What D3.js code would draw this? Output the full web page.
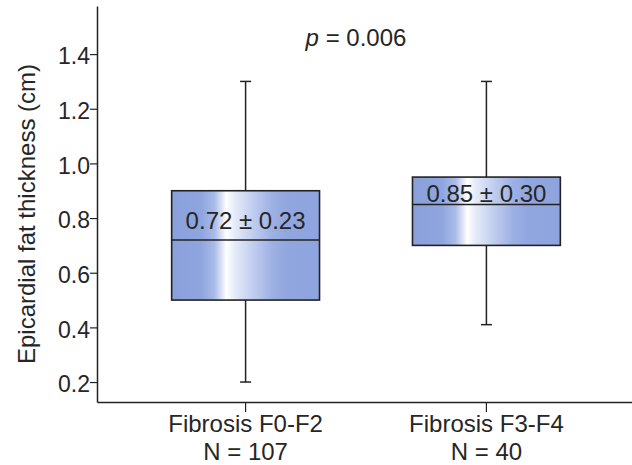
<!DOCTYPE html>
<html>
<head>
<meta charset="utf-8">
<script src="https://cdn.jsdelivr.net/npm/d3@7"></script>
<style>
  body { margin: 0; background: #fff; }
  svg text { font-family: "Liberation Sans", Arial, sans-serif; fill: #262626; }
</style>
</head>
<body>
<div id="chart"></div>
<script>
// data
const groups = ["Fibrosis F0-F2", "Fibrosis F3-F4"];
const counts = ["N = 107", "N = 40"];
const whiskerLow = [0.2, 0.41];
const q1 = [0.5, 0.7];
const medians = [0.72, 0.85];
const q3 = [0.9, 0.95];
const whiskerHigh = [1.3, 1.3];
const meanLabels = ["0.72 ± 0.23", "0.85 ± 0.30"];
const meanLabelAt = [0.76, 0.86]; // baseline of the label, in cm
const yTicks = [0.2, 0.4, 0.6, 0.8, 1.0, 1.2, 1.4];
const pValue = "0.006";

const width = 632, height = 465;
const plot = { left: 97, right: 635, top: 6, bottom: 402 };

const svg = d3.select("#chart").append("svg")
  .attr("width", width)
  .attr("height", height);

// box fill: blue with a glossy highlight left of centre
const grad = svg.append("defs").append("linearGradient")
  .attr("id", "boxGrad")
  .attr("x1", "0%").attr("x2", "100%")
  .attr("y1", "0%").attr("y2", "0%");
[
  [0, "#8aa0db"], [0.2, "#8fa5de"], [0.29, "#a9bbe8"], [0.34, "#dde4f6"],
  [0.37, "#ffffff"], [0.43, "#e4eaf8"], [0.55, "#c0cdef"], [0.68, "#9db0e3"],
  [0.78, "#91a6df"], [1, "#8ea4de"]
].forEach(([o, c]) => grad.append("stop").attr("offset", o).attr("stop-color", c));

const y = d3.scaleLinear()
  .domain([0.127, 1.576])
  .range([plot.bottom, plot.top]);

const x = d3.scaleBand()
  .domain(groups)
  .range([plot.left, plot.right])
  .paddingInner(0.386)
  .paddingOuter(0.31);

// axes
const yAxis = svg.append("g")
  .attr("transform", `translate(${plot.left},0)`)
  .call(d3.axisLeft(y).tickValues(yTicks).tickFormat(d3.format(".1f")).tickSize(7).tickSizeOuter(0).tickPadding(0));
yAxis.select(".domain").attr("stroke", "#222").attr("stroke-width", 1.5);
yAxis.selectAll(".tick line").attr("stroke", "#222").attr("stroke-width", 1.2);
yAxis.selectAll(".tick text")
  .attr("font-size", 23).attr("fill", "#262626")
  .attr("dy", "0.42em")
  .attr("font-family", "Liberation Sans, Arial, sans-serif");

const xAxis = svg.append("g")
  .attr("transform", `translate(0,${plot.bottom})`)
  .call(d3.axisBottom(x).tickSize(10).tickSizeOuter(0).tickFormat(""));
xAxis.select(".domain").attr("stroke", "#222").attr("stroke-width", 1.5);
xAxis.selectAll(".tick line").attr("stroke", "#222").attr("stroke-width", 1.2);

// category labels (two lines)
const catLabels = svg.append("g").selectAll("text")
  .data(groups)
  .join("text")
  .attr("text-anchor", "middle")
  .attr("font-size", 24)
  .attr("x", d => x(d) + x.bandwidth() / 2)
  .attr("y", 432);
catLabels.append("tspan").text(d => d);
catLabels.append("tspan")
  .attr("x", d => x(d) + x.bandwidth() / 2)
  .attr("dy", 28)
  .text((d, i) => counts[i]);

// y axis title
svg.append("text")
  .attr("transform", `translate(35,214) rotate(-90)`)
  .attr("text-anchor", "middle")
  .attr("font-size", 24)
  .text("Epicardial fat thickness (cm)");

// boxes
const boxes = svg.append("g").selectAll("g")
  .data(groups)
  .join("g");

const cx = d => x(d) + x.bandwidth() / 2;
const capW = 11;

boxes.append("line")
  .attr("x1", cx).attr("x2", cx)
  .attr("y1", (d, i) => y(whiskerHigh[i]))
  .attr("y2", (d, i) => y(q3[i]))
  .attr("stroke", "#222").attr("stroke-width", 1.5);
boxes.append("line")
  .attr("x1", cx).attr("x2", cx)
  .attr("y1", (d, i) => y(q1[i]))
  .attr("y2", (d, i) => y(whiskerLow[i]))
  .attr("stroke", "#222").attr("stroke-width", 1.5);
boxes.append("line")
  .attr("x1", d => cx(d) - capW / 2).attr("x2", d => cx(d) + capW / 2)
  .attr("y1", (d, i) => y(whiskerHigh[i])).attr("y2", (d, i) => y(whiskerHigh[i]))
  .attr("stroke", "#222").attr("stroke-width", 1.5);
boxes.append("line")
  .attr("x1", d => cx(d) - capW / 2).attr("x2", d => cx(d) + capW / 2)
  .attr("y1", (d, i) => y(whiskerLow[i])).attr("y2", (d, i) => y(whiskerLow[i]))
  .attr("stroke", "#222").attr("stroke-width", 1.5);

boxes.append("rect")
  .attr("x", d => x(d))
  .attr("width", x.bandwidth())
  .attr("y", (d, i) => y(q3[i]))
  .attr("height", (d, i) => y(q1[i]) - y(q3[i]))
  .attr("fill", "url(#boxGrad)")
  .attr("stroke", "#222").attr("stroke-width", 1.6);

boxes.append("line")
  .attr("x1", d => x(d)).attr("x2", d => x(d) + x.bandwidth())
  .attr("y1", (d, i) => y(medians[i])).attr("y2", (d, i) => y(medians[i]))
  .attr("stroke", "#222").attr("stroke-width", 1.5);

boxes.append("text")
  .attr("x", cx)
  .attr("y", (d, i) => y(meanLabelAt[i]))
  .attr("text-anchor", "middle")
  .attr("font-size", 24)
  .text((d, i) => meanLabels[i]);

// p value
const pText = svg.append("text")
  .attr("x", 356)
  .attr("y", 46)
  .attr("text-anchor", "middle")
  .attr("font-size", 24);
pText.append("tspan").attr("font-style", "italic").text("p");
pText.append("tspan").text(` = ${pValue}`);
</script>
</body>
</html>
